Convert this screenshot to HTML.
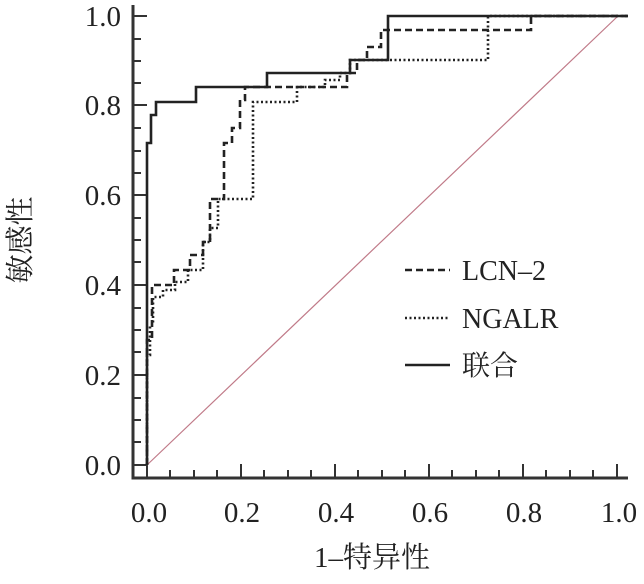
<!DOCTYPE html>
<html><head><meta charset="utf-8"><style>
body{margin:0;background:#fff}
svg text{font-family:"Liberation Serif","Noto Serif CJK SC",serif;fill:#222}
</style></head><body>
<svg width="644" height="579" viewBox="0 0 644 579" xmlns="http://www.w3.org/2000/svg">
<g stroke="#333" stroke-width="3" fill="none">
<path d="M133,5 V478 H628"/>
</g>
<g stroke="#333" stroke-width="2">
<path d="M133,16H147M133,105H147M133,195H147M133,285H147M133,375H147M133,465H147"/>
<path d="M133,39H141M133,61H141M133,83H141M133,128H141M133,151H141M133,173H141M133,218H141M133,240H141M133,262H141M133,308H141M133,330H141M133,352H141M133,398H141M133,420H141M133,442H141"/>
<path d="M147,478V464M241,478V464M335,478V464M429,478V464M523,478V464M617,478V464"/>
<path d="M170,478V470M194,478V470M217,478V470M264,478V470M288,478V470M311,478V470M358,478V470M382,478V470M405,478V470M452,478V470M476,478V470M499,478V470M546,478V470M570,478V470M593,478V470"/>
</g>
<line x1="147" y1="465" x2="618" y2="16" stroke="#c07a88" stroke-width="1.2"/>
<g fill="none" stroke="#222" stroke-width="2.6">
<path d="M147,465V143H151V115H156V102H196V87H267V73H350V60H388V16H628"/>
<path stroke-dasharray="7,4" d="M147,465V340H152V285H174V270H190V255H203V242H210V199H224V143H232V128H240V100H245V87H347V73H357V60H367V47H381V30H531V16H628"/>
<path stroke-dasharray="2,2.5" d="M147,465V355H150V325H153V297H163V290H175V282H188V270H203V242H210V228H218V199H253V102H297V87H325V80H340V73H350V60H488V16H628"/>
</g>
<g font-size="29" text-anchor="end">
<text x="121" y="26">1.0</text><text x="121" y="115">0.8</text><text x="121" y="205">0.6</text>
<text x="121" y="295">0.4</text><text x="121" y="385">0.2</text><text x="121" y="475">0.0</text>
</g>
<g font-size="29" text-anchor="middle">
<text x="149" y="522">0.0</text><text x="242" y="522">0.2</text><text x="336" y="522">0.4</text>
<text x="430" y="522">0.6</text><text x="524" y="522">0.8</text><text x="619" y="522">1.0</text>
<text x="372" y="567">1–特异性</text>
<text transform="translate(30,240) rotate(-90)">敏感性</text>
</g>
<g stroke="#222" stroke-width="2.4">
<line x1="405" y1="270" x2="450" y2="270" stroke-dasharray="7,4"/>
<line x1="405" y1="318" x2="450" y2="318" stroke-dasharray="2,2.5"/>
<line x1="405" y1="365" x2="450" y2="365"/>
</g>
<g font-size="28">
<text x="462" y="280">LCN–2</text><text x="462" y="328">NGALR</text><text x="462" y="375">联合</text>
</g>
</svg>
</body></html>
